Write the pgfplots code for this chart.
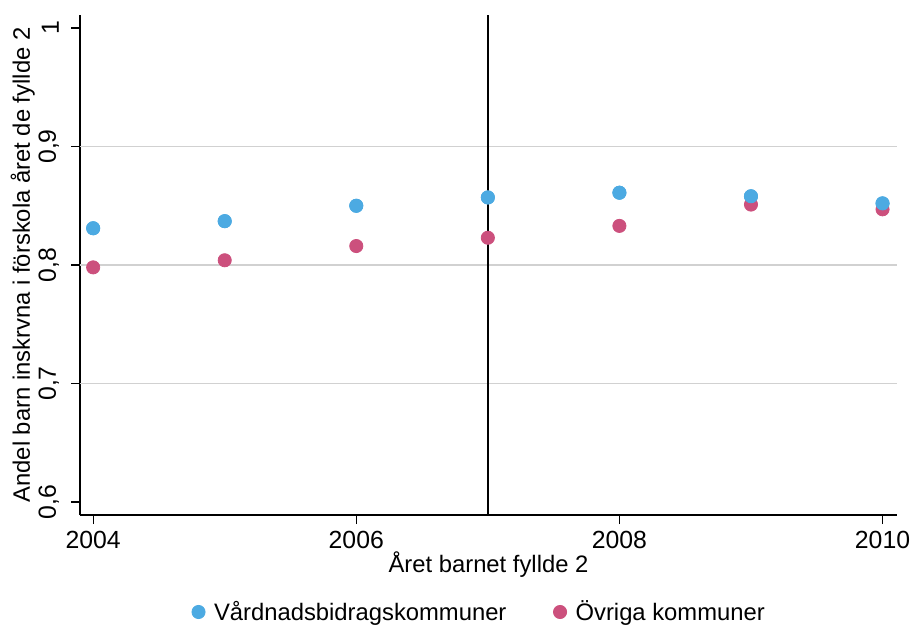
\documentclass[border=0pt]{standalone}
\usepackage{pgfplots}
\pgfplotsset{compat=1.18}
\usepackage{fontspec}
\setmainfont{Liberation Sans}
\definecolor{cblue}{RGB}{76,170,226}
\definecolor{cred}{RGB}{204,80,125}
\begin{document}
\begin{tikzpicture}
\begin{axis}[
  name=ax,
  scale only axis,
  width=408.5bp, height=250bp,
  xmin=2003.9, xmax=2010.11,
  ymin=0.589, ymax=1.011,
  axis lines=left,
  axis line style={-, line width=0.65bp, black},
  tick align=outside,
  major tick length=4.5bp,
  tick style={line width=0.65bp, black},
  xtick={2004,2006,2008,2010},
  ytick={0.6,0.7,0.8,0.9,1},
  yticklabels={{0,6},{0,7},{0,8},{0,9},{1}},
  xticklabel style={/pgf/number format/1000 sep={}},
  /pgf/number format/assume math mode=true,
  font=\fontsize{11.9bp}{14bp}\selectfont,
  ticklabel style={font=\fontsize{12.4bp}{14bp}\selectfont},
  yticklabel style={xshift=-2.5bp, rotate=90, anchor=south},
  extra y ticks={0.7,0.8,0.9},
  extra y tick labels={},
  extra y tick style={grid=major, major tick length=0pt, major grid style={line width=0.7bp, color=black!18}},
  xlabel={Året barnet fyllde 2},
  ylabel={Andel barn inskrvna i förskola året de fyllde 2},
  xlabel style={at={(axis description cs:0.5,-0.1)}, anchor=center},
  ylabel style={at={(axis description cs:-0.07,0.5)}, anchor=center},
  legend columns=2,
  legend style={at={(axis description cs:0.49,-0.194)}, anchor=center, draw=none, fill=none,
    font=\fontsize{11.9bp}{14bp}\selectfont,
    /tikz/every even column/.append style={column sep=21.5bp}},
  legend image code/.code={\draw[#1] (0bp,0bp) plot coordinates {(0bp,0bp)}; \path (0bp,0bp) (5.8bp,0bp);},
]
\addplot[black, line width=1bp, forget plot] coordinates {(2007,0.589) (2007,1.011)};
\addplot[only marks, mark=*, mark size=3.3bp, draw=none, fill=cblue, mark options={draw=cblue, fill=cblue}] coordinates {
(2004,0.831) (2005,0.837) (2006,0.850) (2007,0.857) (2008,0.861) (2009,0.858) (2010,0.852)};
\addlegendentry{Vårdnadsbidragskommuner}
\addplot[only marks, mark=*, mark size=3.3bp, draw=none, fill=cred, mark options={draw=cred, fill=cred}] coordinates {
(2004,0.798) (2005,0.804) (2006,0.816) (2007,0.823) (2008,0.833) (2009,0.851) (2010,0.847)};
\addlegendentry{Övriga kommuner}
\addplot[only marks, mark=*, mark size=3.3bp, draw=none, fill=cblue, mark options={draw=cblue, fill=cblue}, forget plot] coordinates {
(2004,0.831) (2005,0.837) (2006,0.850) (2007,0.857) (2008,0.861) (2009,0.858) (2010,0.852)};
\end{axis}
\pgfresetboundingbox
\path[use as bounding box] (ax.south west) ++(-40bp,-56.5bp) rectangle ++(455bp,314bp);
\end{tikzpicture}
\end{document}
